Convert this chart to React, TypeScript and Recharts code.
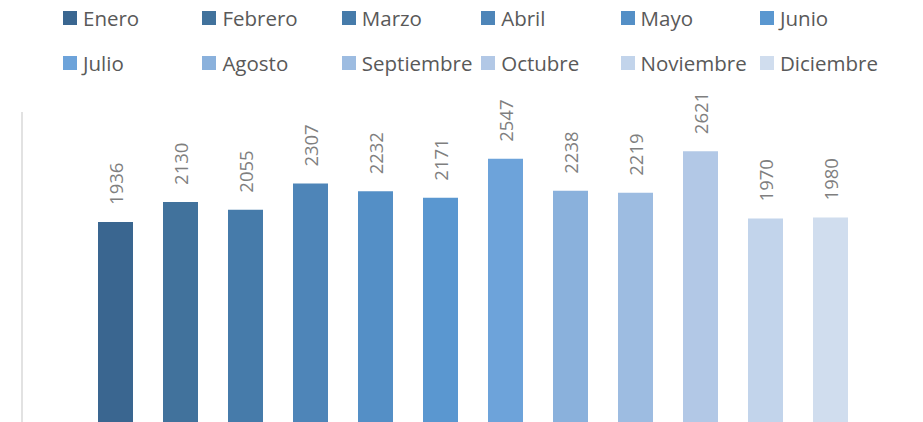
import { BarChart, Bar, XAxis, YAxis, LabelList } from "recharts";

const months = [
  "Enero",
  "Febrero",
  "Marzo",
  "Abril",
  "Mayo",
  "Junio",
  "Julio",
  "Agosto",
  "Septiembre",
  "Octubre",
  "Noviembre",
  "Diciembre",
];

const values = [1936, 2130, 2055, 2307, 2232, 2171, 2547, 2238, 2219, 2621, 1970, 1980];

const colors = [
  "#3A6690",
  "#41729C",
  "#467BAA",
  "#4E85B8",
  "#548FC6",
  "#5A97D0",
  "#6DA3DA",
  "#8AB1DC",
  "#9DBCE1",
  "#B2C8E6",
  "#C2D4EB",
  "#D0DDEE",
];

const row: Record<string, number | string> = { name: "total" };
months.forEach((m, i) => {
  row[m] = values[i];
});
const data = [row];

const FONT = "'Open Sans', sans-serif";

function RotatedLabel(props: any) {
  const { x, y, width, value } = props;
  const cx = x + width / 2;
  const cy = y - 17;
  return (
    <text
      x={cx}
      y={cy}
      transform={`rotate(-90, ${cx}, ${cy})`}
      textAnchor="start"
      dominantBaseline="central"
      fill="#7F7F7F"
      fontSize={18.5}
      fontFamily={FONT}
    >
      {value}
    </text>
  );
}

function MonthLegend() {
  return (
    <div style={{ position: "absolute", left: 0, top: 0, width: 923, height: 90 }}>
      {months.map((m, i) => {
        const col = i % 6;
        const r = Math.floor(i / 6);
        return (
          <div
            key={m}
            style={{
              position: "absolute",
              left: 63 + col * 139.4,
              top: r === 0 ? 4 : 49,
              height: 28,
              display: "flex",
              alignItems: "center",
              whiteSpace: "nowrap",
            }}
          >
            <span style={{ display: "inline-block", width: 14, height: 14, background: colors[i], marginRight: 6 }} />
            <span style={{ fontFamily: FONT, fontSize: 20.5, color: "#595959" }}>{m}</span>
          </div>
        );
      })}
    </div>
  );
}

export default function App() {
  return (
    <div style={{ position: "absolute", left: 0, top: 0, width: 923, height: 422, background: "#fff", overflow: "hidden" }}>
      <MonthLegend />
      <div style={{ position: "absolute", left: 0, top: 0 }}>
        <BarChart
          width={923}
          height={422}
          data={data}
          margin={{ top: 112, right: 0, bottom: 0, left: 21 }}
          barSize={35}
          barGap={30}
        >
          <XAxis dataKey="name" hide />
          <YAxis
            domain={[0, 3000]}
            width={1}
            tick={false}
            tickLine={false}
            axisLine={{ stroke: "#D9D9D9", strokeWidth: 1.5 }}
          />
          {months.map((m, i) => (
            <Bar key={m} dataKey={m} fill={colors[i]} isAnimationActive={false}>
              <LabelList dataKey={m} content={<RotatedLabel />} />
            </Bar>
          ))}
        </BarChart>
      </div>
    </div>
  );
}
